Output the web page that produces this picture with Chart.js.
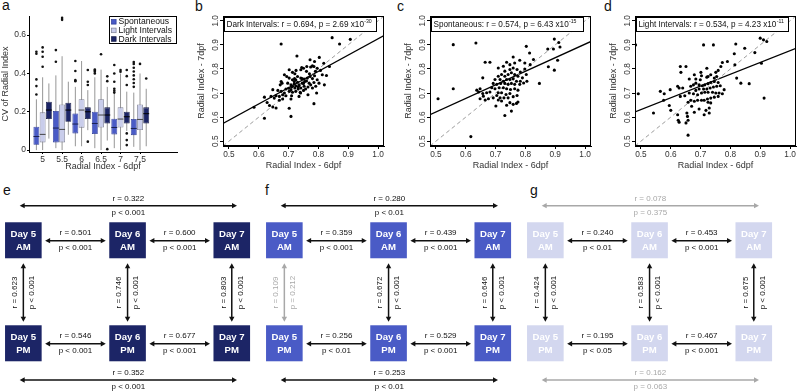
<!DOCTYPE html>
<html>
<head>
<meta charset="utf-8">
<script src="https://cdn.jsdelivr.net/npm/chart.js@4.4.1/dist/chart.umd.min.js"></script>
<style>
  body { margin: 0; background: #fff; width: 798px; height: 392px; position: relative; overflow: hidden; font-family: "Liberation Sans", Arial, sans-serif; }
  canvas { position: absolute; }
  .lab { position: absolute; font-size: 14px; line-height: 1; color: #111; }
</style>
</head>
<body>
<div class="lab" style="left:2px;top:-2px">a</div>
<div class="lab" style="left:195px;top:-1px">b</div>
<div class="lab" style="left:397px;top:-1px">c</div>
<div class="lab" style="left:604px;top:-1px">d</div>
<div class="lab" style="left:3px;top:183px">e</div>
<div class="lab" style="left:265px;top:183px">f</div>
<div class="lab" style="left:530px;top:183px">g</div>

<canvas id="pa" width="195" height="180" style="left:0;top:0"></canvas>
<canvas id="pb" width="200" height="180" style="left:195px;top:0"></canvas>
<canvas id="pc" width="200" height="180" style="left:402px;top:0"></canvas>
<canvas id="pd" width="200" height="180" style="left:607px;top:0"></canvas>
<canvas id="pe" width="262" height="202" style="left:0;top:190px"></canvas>
<canvas id="pf" width="262" height="202" style="left:261px;top:190px"></canvas>
<canvas id="pg" width="262" height="202" style="left:522px;top:190px"></canvas>

<script>
const FONT = '"Liberation Sans", Arial, sans-serif';
Chart.defaults.font.family = FONT;

// ---- panel a: boxplots, [low whisker, q1, median, q3, high whisker]
const groups = [5, 5.5, 6, 6.5, 7, 7.5];
const seriesNames = ['Spontaneous', 'Light Intervals', 'Dark Intervals'];
const spontStats = [
  [0.0, 0.028, 0.071, 0.122, 0.265], [0.01, 0.04, 0.115, 0.204, 0.39], [0.02, 0.087, 0.136, 0.191, 0.33],
  [0.01, 0.084, 0.139, 0.2, 0.38], [0.01, 0.082, 0.118, 0.164, 0.30], [0.017, 0.078, 0.113, 0.162, 0.30]
];
const lightStats = [
  [0.0, 0.04, 0.082, 0.197, 0.38], [0.0, 0.04, 0.108, 0.238, 0.49], [0.02, 0.117, 0.209, 0.265, 0.465],
  [0.0, 0.118, 0.183, 0.265, 0.42], [0.0, 0.118, 0.162, 0.223, 0.40], [0.0, 0.105, 0.16, 0.238, 0.40]
];
const darkStats = [
  [0.06, 0.162, 0.209, 0.252, 0.348], [0.08, 0.148, 0.209, 0.247, 0.357], [0.104, 0.162, 0.20, 0.223, 0.313],
  [0.05, 0.139, 0.183, 0.223, 0.33], [0.1, 0.139, 0.174, 0.2, 0.305], [0.02, 0.139, 0.19, 0.223, 0.32]
];
const spontOut = [[0.29, 0.334, 0.369, 0.503, 0.513], [0.461, 0.522], [0.36, 0.365, 0.413, 0.465],
  [0.40, 0.409, 0.415, 0.421], [0.30, 0.31, 0.32, 0.357, 0.40, 0.444], [0.33, 0.35, 0.37, 0.39, 0.41, 0.43, 0.45, 0.46]];
const lightOut = [[0.435, 0.487, 0.513, 0.536], [0.68, 0.69], [], [0.50], [0.409, 0.418], [0.45]];
const darkOut = [[], [], [0.044, 0.34, 0.357, 0.418], [0.005, 0.36, 0.385], [0.026, 0.052, 0.087, 0.34, 0.386, 0.418], [0.374]];
const cvTicks = [0, 0.2, 0.4, 0.6];

// ---- panels b-d: radial index 6dpf vs 7dpf
const riTicks = [0.5, 0.6, 0.7, 0.8, 0.9, 1.0];
const riRange = [0.48, 1.02];
const darkPts = [
  [0.675,0.904],[0.846,0.930],[0.871,0.904],[0.907,0.923],[0.728,0.854],[0.772,0.838],[0.803,0.848],[0.787,0.831],
  [0.818,0.824],[0.744,0.806],[0.741,0.797],[0.725,0.794],[0.702,0.797],[0.713,0.786],[0.721,0.780],[0.750,0.803],
  [0.761,0.810],[0.774,0.808],[0.780,0.813],[0.785,0.810],[0.796,0.803],[0.807,0.794],[0.827,0.773],[0.837,0.810],
  [0.813,0.776],[0.787,0.772],[0.772,0.769],[0.763,0.762],[0.752,0.758],[0.741,0.762],[0.730,0.769],[0.724,0.755],
  [0.719,0.748],[0.713,0.755],[0.702,0.762],[0.694,0.769],[0.686,0.776],[0.678,0.741],[0.675,0.748],[0.672,0.734],
  [0.697,0.741],[0.708,0.734],[0.713,0.728],[0.724,0.730],[0.735,0.734],[0.746,0.741],[0.754,0.748],[0.769,0.741],
  [0.774,0.734],[0.785,0.744],[0.796,0.755],[0.802,0.741],[0.820,0.734],[0.791,0.728],[0.780,0.721],[0.765,0.725],
  [0.752,0.728],[0.741,0.721],[0.732,0.717],[0.721,0.721],[0.708,0.714],[0.702,0.707],[0.713,0.703],[0.724,0.707],
  [0.739,0.703],[0.750,0.711],[0.757,0.717],[0.732,0.725],[0.719,0.739],[0.710,0.725],[0.691,0.717],[0.686,0.700],
  [0.675,0.707],[0.664,0.711],[0.647,0.714],[0.658,0.689],[0.669,0.686],[0.680,0.693],[0.691,0.689],[0.710,0.689],
  [0.735,0.686],[0.765,0.693],[0.794,0.700],[0.708,0.675],[0.680,0.675],[0.652,0.679],[0.641,0.686],[0.619,0.683],
  [0.628,0.661],[0.647,0.642],[0.658,0.638],[0.636,0.648],[0.669,0.670],[0.785,0.656],[0.702,0.637],[0.619,0.595],
  [0.708,0.603],[0.584,0.641],[0.730,0.745],[0.745,0.760],[0.760,0.750],[0.735,0.730],[0.750,0.740],[0.770,0.780],
  [0.790,0.790],[0.760,0.790],[0.720,0.760],[0.700,0.720],[0.740,0.700],[0.780,0.760]
];
const spontPts = [
  [0.507,0.676],[0.558,0.901],[0.634,0.908],[0.558,0.718],[0.617,0.519],[0.665,0.828],[0.681,0.828],[0.803,0.894],
  [0.875,0.883],[0.897,0.924],[0.912,0.910],[0.916,0.891],[0.894,0.883],[0.908,0.836],[0.897,0.795],[0.877,0.809],
  [0.847,0.740],[0.827,0.839],[0.814,0.866],[0.816,0.818],[0.798,0.825],[0.781,0.836],[0.759,0.850],[0.764,0.825],
  [0.748,0.818],[0.737,0.828],[0.726,0.811],[0.709,0.804],[0.731,0.791],[0.748,0.798],[0.759,0.804],[0.772,0.798],
  [0.783,0.787],[0.798,0.800],[0.803,0.777],[0.790,0.763],[0.775,0.770],[0.764,0.777],[0.753,0.784],[0.742,0.777],
  [0.731,0.770],[0.720,0.777],[0.709,0.770],[0.698,0.756],[0.715,0.756],[0.726,0.749],[0.737,0.756],[0.748,0.756],
  [0.759,0.759],[0.770,0.749],[0.783,0.749],[0.794,0.742],[0.805,0.749],[0.781,0.736],[0.764,0.736],[0.753,0.740],
  [0.742,0.736],[0.731,0.740],[0.717,0.740],[0.704,0.736],[0.692,0.740],[0.687,0.722],[0.698,0.718],[0.712,0.722],
  [0.726,0.722],[0.737,0.718],[0.750,0.715],[0.764,0.718],[0.775,0.712],[0.748,0.698],[0.735,0.694],[0.720,0.701],
  [0.709,0.701],[0.704,0.690],[0.715,0.680],[0.728,0.680],[0.742,0.680],[0.759,0.685],[0.772,0.690],[0.681,0.704],
  [0.670,0.701],[0.657,0.698],[0.648,0.718],[0.643,0.704],[0.659,0.687],[0.648,0.676],[0.665,0.671],[0.676,0.676],
  [0.692,0.680],[0.709,0.671],[0.720,0.667],[0.748,0.660],[0.770,0.657],[0.775,0.663],[0.759,0.653],[0.737,0.649],
  [0.701,0.646],[0.753,0.625],[0.731,0.607],[0.657,0.763],[0.637,0.712]
];
const lightPts = [
  [0.491,0.697],[0.482,0.900],[0.542,0.617],[0.710,0.900],[0.743,0.900],[0.818,0.904],[0.848,0.886],[0.900,0.928],
  [0.911,0.921],[0.922,0.914],[0.904,0.824],[0.882,0.868],[0.913,0.679],[0.863,0.739],[0.835,0.741],[0.821,0.762],
  [0.815,0.817],[0.813,0.863],[0.790,0.831],[0.773,0.827],[0.768,0.810],[0.759,0.794],[0.751,0.786],[0.754,0.769],
  [0.746,0.762],[0.734,0.776],[0.725,0.769],[0.721,0.803],[0.703,0.772],[0.699,0.755],[0.684,0.758],[0.676,0.734],
  [0.667,0.728],[0.684,0.741],[0.695,0.734],[0.706,0.730],[0.714,0.734],[0.725,0.739],[0.734,0.744],[0.746,0.748],
  [0.759,0.744],[0.766,0.730],[0.754,0.728],[0.743,0.725],[0.732,0.721],[0.721,0.717],[0.710,0.717],[0.695,0.717],
  [0.684,0.711],[0.676,0.697],[0.690,0.693],[0.703,0.700],[0.714,0.703],[0.725,0.703],[0.740,0.703],[0.751,0.700],
  [0.762,0.700],[0.773,0.697],[0.759,0.686],[0.746,0.683],[0.734,0.679],[0.723,0.675],[0.712,0.670],[0.703,0.670],
  [0.690,0.670],[0.679,0.666],[0.667,0.670],[0.658,0.662],[0.725,0.662],[0.734,0.659],[0.729,0.638],[0.718,0.628],
  [0.729,0.617],[0.712,0.610],[0.695,0.634],[0.679,0.620],[0.670,0.645],[0.662,0.700],[0.647,0.689],[0.632,0.686],
  [0.640,0.721],[0.632,0.810],[0.651,0.810],[0.634,0.786],[0.662,0.758],[0.628,0.721],[0.623,0.728],[0.598,0.714],
  [0.578,0.697],[0.565,0.707],[0.576,0.670],[0.595,0.648],[0.600,0.628],[0.623,0.610],[0.625,0.587],[0.628,0.579],
  [0.654,0.617],[0.656,0.603],[0.658,0.587],[0.651,0.576],[0.658,0.525],[0.701,0.786],[0.721,0.766],[0.679,0.776],
  [0.779,0.714]
];
// fitted lines: [intercept, slope]
const darkFit = [0.2495, 0.676];
const spontFit = [0.340, 0.563];
const lightFit = [0.386, 0.49];

// ---- panels e-g: correlations between sessions, [col1, row1, col2, row2, r, p]
const dayNames = ['Day 5', 'Day 6', 'Day 7'];
const sessionNames = ['AM', 'PM'];
const darkEdges = [
  [0,0,1,0,'0.501','p < 0.001'], [1,0,2,0,'0.600','p < 0.001'], [0,1,1,1,'0.546','p < 0.001'], [1,1,2,1,'0.677','p < 0.001'],
  [0,0,0,1,'0.623','p < 0.001'], [1,0,1,1,'0.746','p < 0.001'], [2,0,2,1,'0.803','p < 0.001'],
  [0,0,2,0,'0.322','p < 0.001'], [0,1,2,1,'0.352','p < 0.001']
];
const spontEdges = [
  [0,0,1,0,'0.359','p < 0.001'], [1,0,2,0,'0.439','p < 0.001'], [0,1,1,1,'0.256','p < 0.01'], [1,1,2,1,'0.529','p < 0.001'],
  [0,0,0,1,'0.109','p = 0.212'], [1,0,1,1,'0.672','p < 0.001'], [2,0,2,1,'0.646','p < 0.001'],
  [0,0,2,0,'0.280','p < 0.01'], [0,1,2,1,'0.253','p < 0.01']
];
const lightEdges = [
  [0,0,1,0,'0.240','p < 0.01'], [1,0,2,0,'0.453','p < 0.001'], [0,1,1,1,'0.195','p < 0.05'], [1,1,2,1,'0.467','p < 0.001'],
  [0,0,0,1,'0.424','p < 0.001'], [1,0,1,1,'0.583','p < 0.001'], [2,0,2,1,'0.675','p < 0.001'],
  [0,0,2,0,'0.078','p = 0.375'], [0,1,2,1,'0.162','p = 0.063']
];

const NAVY = '#1c2566', MID = '#4a5bc6', PALE = '#d3d7ef';

// ================= panel a =================
const boxStats = [spontStats, lightStats, darkStats];
const boxOut = [spontOut, lightOut, darkOut];
const boxFill = [MID, '#c9cdeb', NAVY];
const boxEdge = ['#2c3a96', '#7c7f92', '#101640'];
const medColor = ['#1a2050', '#444', '#000'];

new Chart(document.getElementById('pa'), {
  type: 'bar',
  data: {
    datasets: seriesNames.map((name, k) => ({
      label: name,
      data: groups.map((g, i) => ({ x: g, y: [boxStats[k][i][1], boxStats[k][i][3]] })),
      backgroundColor: boxFill[k],
      borderColor: boxEdge[k],
      borderWidth: 0.8,
      borderSkipped: false,
      categoryPercentage: 0.96,
      barPercentage: 0.95
    }))
  },
  options: {
    responsive: false, animation: false, events: [],
    layout: { padding: { top: 16, right: 18, left: 0, bottom: 0 } },
    plugins: { legend: { display: false }, tooltip: { enabled: false } },
    scales: {
      x: {
        type: 'linear', min: 4.65, max: 8.45, offset: false,
        afterBuildTicks: s => { s.ticks = groups.map(v => ({ value: v })); },
        afterFit: s => { s.height = 28; },
        grid: { display: true, offset: false, drawOnChartArea: false, tickLength: 2, color: '#000' },
        border: { color: '#000' },
        ticks: { font: { size: 8.5 }, color: '#333', padding: 1, maxRotation: 0, autoSkip: false, callback: v => String(v) },
        title: { display: true, text: 'Radial Index - 6dpf', font: { size: 9 }, color: '#333', padding: { top: 0, bottom: 7.6 } }
      },
      y: {
        min: -0.01, max: 0.70,
        afterBuildTicks: s => { s.ticks = cvTicks.map(v => ({ value: v })); },
        afterFit: s => { s.width = 29; },
        grid: { display: true, drawOnChartArea: false, tickLength: 2, color: '#000' },
        border: { color: '#000' },
        ticks: { font: { size: 8.5 }, color: '#333', padding: 1, callback: v => v === 0 ? '0' : v.toFixed(1) },
        title: { display: true, text: 'CV of Radial Index', font: { size: 9 }, color: '#333', padding: { top: 0.4, bottom: 0 } }
      }
    }
  },
  plugins: [{
    id: 'boxparts',
    beforeDatasetsDraw(chart) {
      const ctx = chart.ctx, y = chart.scales.y;
      ctx.save();
      ctx.strokeStyle = '#8a8a8a';
      ctx.lineWidth = 0.9;
      boxStats.forEach((stats, k) => {
        chart.getDatasetMeta(k).data.forEach((bar, i) => {
          ctx.beginPath();
          ctx.moveTo(bar.x, y.getPixelForValue(stats[i][0]));
          ctx.lineTo(bar.x, y.getPixelForValue(stats[i][4]));
          ctx.stroke();
        });
      });
      ctx.restore();
    },
    afterDatasetsDraw(chart) {
      const ctx = chart.ctx, y = chart.scales.y;
      ctx.save();
      boxStats.forEach((stats, k) => {
        chart.getDatasetMeta(k).data.forEach((bar, i) => {
          const my = y.getPixelForValue(stats[i][2]);
          ctx.strokeStyle = medColor[k];
          ctx.lineWidth = 1;
          ctx.beginPath();
          ctx.moveTo(bar.x - bar.width / 2, my);
          ctx.lineTo(bar.x + bar.width / 2, my);
          ctx.stroke();
          ctx.fillStyle = '#111';
          boxOut[k][i].forEach(v => {
            ctx.beginPath();
            ctx.arc(bar.x, y.getPixelForValue(v), 1.3, 0, Math.PI * 2);
            ctx.fill();
          });
        });
      });
      // legend box, top right inside the plot
      const a = chart.chartArea, w = 67, h = 27, lx = a.right - 1 - w, ly = a.top;
      ctx.fillStyle = '#fff';
      ctx.fillRect(lx, ly, w, h);
      ctx.strokeStyle = '#000';
      ctx.lineWidth = 1;
      ctx.strokeRect(Math.round(lx) + 0.5, Math.round(ly) + 0.5, w, h);
      ctx.font = '8.6px ' + FONT;
      ctx.textBaseline = 'middle';
      ctx.textAlign = 'left';
      seriesNames.forEach((name, k) => {
        const cy = ly + 5.8 + k * 8.6;
        ctx.fillStyle = boxFill[k];
        ctx.fillRect(lx + 2.5, cy - 2.3, 4.6, 4.6);
        ctx.strokeStyle = boxEdge[k];
        ctx.lineWidth = 0.7;
        ctx.strokeRect(lx + 2.5, cy - 2.3, 4.6, 4.6);
        ctx.fillStyle = '#111';
        ctx.fillText(name, lx + 9.5, cy + 0.3);
      });
      ctx.restore();
    }
  }]
});

// ================= panels b-d =================
function scatterPanel(id, pts, fit, name, r, pMant, pExp) {
  const fitAt = x => fit[0] + fit[1] * x;
  new Chart(document.getElementById(id), {
    type: 'scatter',
    data: {
      datasets: [
        { data: pts.map(([x, y]) => ({ x, y })), pointRadius: 1.55, pointBackgroundColor: '#000', pointBorderWidth: 0 },
        { type: 'line', data: riRange.map(v => ({ x: v, y: v })), borderColor: '#9c9c9c', borderDash: [4, 3],
          borderWidth: 1, pointRadius: 0 },
        { type: 'line', data: riRange.map(v => ({ x: v, y: fitAt(v) })), borderColor: '#000',
          borderWidth: 1.3, pointRadius: 0 }
      ]
    },
    options: {
      responsive: false, animation: false, events: [],
      layout: { padding: { top: 16, right: 200 - 28 - 161, left: 0, bottom: 0 } },
      plugins: { legend: { display: false }, tooltip: { enabled: false } },
      scales: {
        x: {
          type: 'linear', min: riRange[0], max: riRange[1],
          afterBuildTicks: s => { s.ticks = riTicks.map(v => ({ value: v })); },
          afterFit: s => { s.height = 34; },
          grid: { display: true, drawOnChartArea: false, tickLength: 3, color: '#000' },
          border: { color: '#000' },
          ticks: { font: { size: 8.3 }, color: '#333', padding: 1, maxRotation: 0, autoSkip: false, callback: v => v.toFixed(1) },
          title: { display: true, text: 'Radial Index - 6dpf', font: { size: 9 }, color: '#333', padding: { top: 0, bottom: 9 } }
        },
        y: {
          type: 'linear', min: riRange[0], max: riRange[1],
          afterBuildTicks: s => { s.ticks = riTicks.map(v => ({ value: v })); },
          afterFit: s => { s.width = 28; },
          grid: { display: true, drawOnChartArea: false, tickLength: 3, color: '#000' },
          border: { color: '#000' },
          ticks: { display: false },
          title: { display: true, text: 'Radial Index - 7dpf', font: { size: 9 }, color: '#333', padding: { top: 1.2, bottom: 0 } }
        }
      }
    },
    plugins: [{
      id: 'frame',
      afterDatasetsDraw(chart) {
        const ctx = chart.ctx, a = chart.chartArea, y = chart.scales.y;
        ctx.save();
        ctx.strokeStyle = '#000';
        ctx.lineWidth = 1;
        ctx.strokeRect(Math.round(a.left) + 0.5, Math.round(a.top) + 0.5, Math.round(a.width) - 1, Math.round(a.height) - 1);
        // rotated y tick labels, R style
        ctx.fillStyle = '#333';
        ctx.font = '8.3px ' + FONT;
        ctx.textAlign = 'center';
        ctx.textBaseline = 'middle';
        riTicks.forEach(v => {
          ctx.save();
          ctx.translate(a.left - 7, y.getPixelForValue(v));
          ctx.rotate(-Math.PI / 2);
          ctx.fillText(v.toFixed(1), 0, 0);
          ctx.restore();
        });
        // statistics box
        const bx = a.left + 1, by = a.top + 1, bw = 152, bh = 14;
        ctx.fillStyle = '#fff';
        ctx.fillRect(bx, by, bw, bh);
        ctx.strokeStyle = '#000';
        ctx.strokeRect(Math.round(bx) + 0.5, Math.round(by) + 0.5, bw, bh);
        ctx.fillStyle = '#111';
        ctx.textAlign = 'left';
        ctx.font = '8.2px ' + FONT;
        const main = name + ': r = ' + r + ', p = ' + pMant + ' x10';
        ctx.fillText(main, bx + 2.5, by + bh / 2 + 0.5);
        const mw = ctx.measureText(main).width;
        ctx.font = '5.2px ' + FONT;
        ctx.fillText(pExp, bx + 2.5 + mw + 0.3, by + 4.3);
        ctx.restore();
      }
    }]
  });
}
scatterPanel('pb', darkPts, darkFit, 'Dark Intervals', '0.694', '2.69', '-30');
scatterPanel('pc', spontPts, spontFit, 'Spontaneous', '0.574', '6.43', '-15');
scatterPanel('pd', lightPts, lightFit, 'Light Intervals', '0.534', '4.23', '-11');

// ================= panels e-g =================
function drawArrow(ctx, x1, y1, x2, y2, color) {
  const a = Math.atan2(y2 - y1, x2 - x1), hl = 5, hw = 2.7;
  const c = Math.cos(a), s = Math.sin(a);
  ctx.strokeStyle = color;
  ctx.fillStyle = color;
  ctx.lineWidth = 1.5;
  ctx.beginPath();
  ctx.moveTo(x1 + c * (hl - 1), y1 + s * (hl - 1));
  ctx.lineTo(x2 - c * (hl - 1), y2 - s * (hl - 1));
  ctx.stroke();
  [[x2, y2, 1], [x1, y1, -1]].forEach(([x, y, d]) => {
    const cc = c * d, ss = s * d;
    ctx.beginPath();
    ctx.moveTo(x, y);
    ctx.lineTo(x - cc * hl - ss * hw, y - ss * hl + cc * hw);
    ctx.lineTo(x - cc * hl + ss * hw, y - ss * hl - cc * hw);
    ctx.closePath();
    ctx.fill();
  });
}

function diagramPanel(id, edges, fill) {
  new Chart(document.getElementById(id), {
    type: 'scatter',
    data: { datasets: [{ data: [] }] },
    options: {
      responsive: false, animation: false, events: [],
      layout: { padding: 0 },
      plugins: { legend: { display: false }, tooltip: { enabled: false } },
      scales: {
        x: { display: false, min: -0.224, max: 2.29 },
        y: { display: false, reverse: true, min: -0.488, max: 1.473 }
      }
    },
    plugins: [{
      id: 'diagram',
      afterDraw(chart) {
        const ctx = chart.ctx, X = chart.scales.x, Y = chart.scales.y;
        const hw = 18.3, hh = 18;
        ctx.save();
        // session boxes
        dayNames.forEach((day, c) => sessionNames.forEach((ses, r) => {
          const cx = X.getPixelForValue(c), cy = Y.getPixelForValue(r);
          ctx.fillStyle = fill;
          ctx.fillRect(cx - hw, cy - hh, hw * 2, hh * 2);
          ctx.fillStyle = '#fff';
          ctx.font = 'bold 9.6px ' + FONT;
          ctx.textAlign = 'center';
          ctx.textBaseline = 'middle';
          ctx.fillText(day, cx, cy - 5.5);
          ctx.fillText(ses, cx, cy + 6.8);
        }));
        ctx.font = '8px ' + FONT;
        ctx.textAlign = 'center';
        ctx.textBaseline = 'middle';
        edges.forEach(([c1, r1, c2, r2, rv, pv]) => {
          const col = pv.indexOf('=') >= 0 ? '#a8a8a8' : '#111';
          const rTxt = 'r = ' + rv;
          if (r1 === r2 && Math.abs(c2 - c1) === 1) {
            const y = Y.getPixelForValue(r1) + 0.4;
            const xa = X.getPixelForValue(c1) + hw + 3.5, xb = X.getPixelForValue(c2) - hw - 3.5;
            drawArrow(ctx, xa, y, xb, y, col);
            ctx.fillStyle = col;
            ctx.fillText(rTxt, (xa + xb) / 2, y - 7.5);
            ctx.fillText(pv, (xa + xb) / 2, y + 7.5);
          } else if (c1 === c2) {
            const x = X.getPixelForValue(c1);
            const ya = Y.getPixelForValue(r1) + hh + 5, yb = Y.getPixelForValue(r2) - hh - 3.5;
            drawArrow(ctx, x, ya, x, yb, col);
            ctx.fillStyle = col;
            [[rTxt, -8.3], [pv, 8.6]].forEach(([t, dx]) => {
              ctx.save();
              ctx.translate(x + dx, (ya + yb) / 2);
              ctx.rotate(-Math.PI / 2);
              ctx.fillText(t, 0, 0);
              ctx.restore();
            });
          } else {
            const y = Y.getPixelForValue(r1 === 0 ? -0.336 : 1.356);
            const xa = X.getPixelForValue(-0.035), xb = X.getPixelForValue(2.05);
            drawArrow(ctx, xa, y, xb, y, col);
            ctx.fillStyle = col;
            ctx.fillText(rTxt, (xa + xb) / 2, y - 6.8);
            ctx.fillText(pv, (xa + xb) / 2, y + 6.8);
          }
        });
        ctx.restore();
      }
    }]
  });
}
diagramPanel('pe', darkEdges, NAVY);
diagramPanel('pf', spontEdges, MID);
diagramPanel('pg', lightEdges, PALE);
</script>
</body>
</html>
